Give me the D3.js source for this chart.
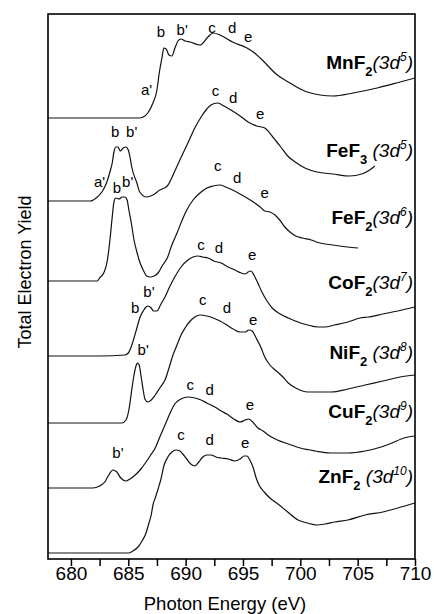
<!DOCTYPE html>
<html>
<head>
<meta charset="utf-8">
<script src="https://cdn.jsdelivr.net/npm/d3@7"></script>
<style>
  body { margin: 0; background: #fff; }
  svg { display: block; font-family: "Liberation Sans", Arial, sans-serif; }
</style>
</head>
<body>
<script>
// spectra: [photon energy (eV), total electron yield (arb. units, offset)]
var mnf2 = [[678.0,44.1],[682.5,44.1],[686.0,44.1],[686.3,44.2],[686.7,44.6],[687.15,45.6],[687.5,46.9],[687.7,48.6],[687.95,50.2],[688.1,51.1],[688.3,51.0],[688.55,50.4],[688.8,50.3],[689.07,51.1],[689.33,51.8],[689.6,52.0],[689.95,51.8],[690.4,51.7],[691.25,51.4],[691.95,52.2],[692.4,52.6],[693.0,52.4],[694.1,51.7],[695.35,51.1],[695.9,50.7],[696.5,50.1],[698.0,48.4],[699.1,47.6],[700.6,46.7],[702.85,46.3],[704.6,46.6],[706.7,47.1],[708.7,47.7],[710.0,48.1]];
var fef3 = [[678.0,35.8],[681.7,35.8],[682.3,36.2],[682.7,36.7],[683.1,37.6],[683.4,38.7],[683.6,39.6],[683.75,40.7],[683.9,41.2],[684.1,41.2],[684.3,40.8],[684.55,41.1],[684.8,41.2],[685.0,40.9],[685.15,40.2],[685.3,39.2],[685.75,37.6],[686.0,36.7],[686.6,36.2],[687.15,36.4],[687.75,36.9],[688.4,37.3],[689.1,38.9],[689.7,40.4],[690.2,41.6],[690.8,43.1],[691.35,44.2],[691.85,45.0],[692.2,45.4],[692.8,45.6],[693.35,45.3],[693.95,44.9],[694.75,44.3],[695.45,43.7],[696.2,43.3],[696.9,43.1],[697.6,42.2],[698.3,41.2],[698.9,40.3],[699.55,39.7],[700.4,39.1],[701.45,38.7],[702.85,38.5],[704.3,38.3],[705.35,38.5],[706.05,38.9],[706.5,39.3]];
var fef2 = [[678.0,27.8],[682.3,27.8],[682.5,28.1],[682.9,28.7],[683.15,29.7],[683.4,31.9],[683.6,34.2],[683.75,35.7],[683.9,36.1],[684.2,36.0],[684.45,36.2],[684.7,36.2],[684.9,35.9],[685.05,34.9],[685.25,33.7],[685.5,31.9],[685.75,30.7],[686.0,29.7],[686.3,28.9],[686.6,28.3],[686.9,28.2],[687.25,28.3],[687.6,28.6],[688.0,29.4],[688.4,30.1],[688.8,31.4],[689.25,32.6],[689.7,33.9],[690.1,34.9],[690.65,35.9],[691.25,36.6],[691.85,37.1],[692.4,37.3],[693.0,37.4],[693.5,37.2],[694.1,36.9],[694.75,36.5],[695.35,36.1],[695.9,35.7],[696.5,35.2],[696.9,34.8],[697.35,34.7],[697.8,34.4],[698.2,33.9],[698.65,33.2],[699.1,32.7],[699.6,32.3],[700.2,32.1],[700.95,31.9],[701.7,31.6],[702.85,31.4],[704.1,31.2],[705.05,31.1]];
var cof2 = [[678.0,20.3],[682.5,20.3],[684.7,20.4],[685.0,20.6],[685.25,21.2],[685.5,22.1],[685.75,23.1],[686.0,24.1],[686.3,24.8],[686.55,25.2],[686.7,25.3],[687.0,25.1],[687.2,24.8],[687.5,24.8],[687.85,25.5],[688.2,26.2],[688.6,27.2],[689.05,28.2],[689.6,29.2],[690.2,29.9],[690.65,30.2],[691.1,30.3],[691.5,30.2],[691.95,30.1],[692.45,29.8],[693.1,29.6],[693.7,29.2],[694.3,28.9],[694.85,28.6],[695.2,28.5],[695.45,28.7],[695.7,28.8],[695.95,28.4],[696.3,27.6],[696.65,26.7],[697.1,25.8],[697.55,25.1],[698.25,24.5],[698.95,24.1],[699.8,23.7],[700.65,23.4],[701.55,23.2],[702.15,23.2],[703.0,23.4],[704.15,23.7],[705.2,24.1],[705.9,24.2],[707.2,24.5],[708.5,24.8],[710.0,25.2]];
var nif2 = [[678.0,13.6],[682.5,13.6],[684.45,13.6],[684.8,13.9],[685.05,14.9],[685.3,16.9],[685.5,18.4],[685.7,19.4],[685.8,19.6],[685.95,19.4],[686.1,18.4],[686.3,16.9],[686.45,16.0],[686.7,15.7],[687.0,15.9],[687.35,16.4],[687.75,17.1],[688.2,17.9],[688.55,19.1],[688.9,20.4],[689.25,21.4],[689.6,22.4],[689.95,23.1],[690.4,23.8],[690.8,24.2],[691.25,24.4],[691.85,24.3],[692.4,24.1],[693.0,23.8],[693.6,23.4],[694.15,23.0],[694.75,22.7],[695.2,22.7],[695.5,22.9],[695.8,22.8],[696.15,22.1],[696.55,21.2],[696.9,20.2],[697.35,19.4],[697.8,18.9],[698.4,18.3],[698.95,17.6],[699.6,17.1],[700.65,16.7],[701.7,16.7],[702.7,16.7],[704.15,17.0],[705.65,17.4],[707.2,17.8],[708.7,18.2],[710.0,18.4]];
var cuf2 = [[678.0,7.1],[681.9,7.1],[682.5,7.3],[682.95,7.7],[683.3,8.4],[683.65,8.9],[684.0,8.7],[684.35,8.1],[684.8,7.8],[685.15,8.0],[685.6,8.4],[686.1,9.0],[686.55,9.7],[686.9,10.3],[687.35,11.1],[687.75,12.2],[688.2,13.4],[688.65,14.6],[689.05,15.5],[689.6,16.0],[690.2,16.2],[690.8,16.1],[691.35,15.9],[691.85,15.6],[692.55,15.2],[693.1,14.8],[693.6,14.5],[694.2,14.0],[694.75,13.7],[695.2,13.9],[695.5,14.0],[695.85,13.7],[696.3,13.1],[696.75,12.8],[697.2,12.4],[698.0,11.9],[698.95,11.5],[700.0,11.1],[701.3,10.8],[702.6,10.6],[704.15,10.6],[705.65,10.8],[707.05,11.2],[708.0,11.6],[708.8,12.0],[709.4,12.2],[710.0,12.3]];
var znf2 = [[678.0,0.6],[682.5,0.6],[685.0,0.6],[685.4,0.8],[685.85,1.2],[686.2,1.8],[686.55,2.6],[686.8,3.6],[687.0,4.4],[687.15,5.4],[687.35,6.1],[687.6,7.0],[687.85,8.0],[688.1,9.3],[688.45,10.2],[688.8,10.7],[689.15,10.9],[689.5,10.8],[689.75,10.5],[690.1,10.0],[690.45,9.5],[690.8,9.3],[691.15,9.7],[691.5,10.2],[691.85,10.4],[692.2,10.4],[692.65,10.2],[693.1,10.1],[693.7,10.0],[694.3,9.8],[694.75,10.0],[695.1,10.3],[695.35,10.3],[695.6,9.9],[695.9,9.1],[696.15,8.1],[696.4,7.4],[696.85,6.7],[697.35,6.1],[698.05,5.5],[698.9,4.7],[699.8,3.9],[700.6,3.6],[701.45,3.4],[702.15,3.5],[703.0,3.7],[704.15,3.9],[705.65,4.4],[707.2,4.7],[708.5,5.1],[710.0,5.6]];

var spectra = [mnf2, fef3, fef2, cof2, nif2, cuf2, znf2];

// compound labels
var formulas = ["MnF", "FeF", "FeF", "CoF", "NiF", "CuF", "ZnF"];
var subscripts = ["2", "3", "2", "2", "2", "2", "2"];
var dCounts = ["5", "5", "6", "7", "8", "9", "10"];
var spaced = [false, true, false, false, true, false, true];
var labelLevels = [49.0, 40.2, 33.5, 27.0, 20.0, 14.1, 7.6];

// peak letters: [energy, intensity, letter]
var peakLabels = [
  [686.6,46.4,"a'"],[687.85,52.2,"b"],[689.7,52.4,"b'"],[692.3,52.6,"c"],[694.05,52.6,"d"],[695.45,51.7,"e"],
  [683.85,42.2,"b"],[685.3,42.2,"b'"],[692.6,46.3,"c"],[694.15,45.6,"d"],[696.5,44.0,"e"],
  [682.5,37.2,"a'"],[684.0,36.6,"b"],[684.95,37.2,"b'"],[692.8,38.8,"c"],[694.5,37.6,"d"],[696.9,36.1,"e"],
  [685.6,24.6,"b"],[686.8,26.2,"b'"],[691.35,30.9,"c"],[692.9,30.6,"d"],[695.8,29.9,"e"],
  [691.5,25.4,"c"],[693.6,24.6,"d"],[695.9,23.4,"e"],[686.3,20.4,"b'"],
  [690.4,16.9,"c"],[692.1,16.4,"d"],[695.6,14.9,"e"],[684.1,10.1,"b'"],
  [689.6,11.9,"c"],[692.1,11.4,"d"],[695.2,11.1,"e"]
];

var xTicks = [680, 685, 690, 695, 700, 705, 710];
var xMinorTicks = d3.range(680, 711, 2.5);

var W = 434, H = 614;
var margin = {left: 48, right: 19, top: 14, bottom: 55};

var x = d3.scaleLinear().domain([678, 710]).range([margin.left, W - margin.right]);
var y = d3.scaleLinear().domain([0, 54.5]).range([H - margin.bottom, margin.top]);

var svg = d3.select("body").append("svg")
  .attr("width", W)
  .attr("height", H);

var line = d3.line()
  .x(function(d) { return x(d[0]); })
  .y(function(d) { return y(d[1]); })
  .curve(d3.curveMonotoneX);

svg.append("g").selectAll("path")
  .data(spectra)
  .enter()
  .append("path")
  .attr("d", line)
  .attr("fill", "none")
  .attr("stroke", "#111")
  .attr("stroke-width", 1.2);

// frame
svg.append("rect")
  .attr("x", x(678))
  .attr("y", y(54.5))
  .attr("width", x(710) - x(678))
  .attr("height", y(0) - y(54.5))
  .attr("fill", "none")
  .attr("stroke", "#000")
  .attr("stroke-width", 1.6);

// bottom axis, minor ticks every 2.5 eV
var xAxis = d3.axisBottom(x)
  .tickValues(xMinorTicks)
  .tickSize(7)
  .tickPadding(1)
  .tickFormat(function(d) { return xTicks.indexOf(d) >= 0 ? d : ""; });

var gx = svg.append("g")
  .attr("transform", "translate(0," + y(0) + ")")
  .call(xAxis);
gx.select(".domain").remove();
gx.selectAll("line").attr("stroke", "#000").attr("stroke-width", 1.5);
gx.selectAll("text")
  .attr("fill", "#000")
  .attr("font-size", 19)
  .attr("font-family", "Liberation Sans, Arial, sans-serif");

svg.append("text")
  .attr("x", 225)
  .attr("y", 610)
  .attr("text-anchor", "middle")
  .attr("font-size", 18.5)
  .text("Photon Energy (eV)");

svg.append("text")
  .attr("transform", "translate(31,272) rotate(-90)")
  .attr("text-anchor", "middle")
  .attr("font-size", 18)
  .text("Total Electron Yield");

// peak letters
svg.append("g").selectAll("text")
  .data(peakLabels)
  .enter()
  .append("text")
  .attr("x", function(d) { return x(d[0]); })
  .attr("y", function(d) { return y(d[1]); })
  .attr("text-anchor", "middle")
  .attr("font-size", 15)
  .text(function(d) { return d[2]; });

// compound labels
formulas.forEach(function(f, i) {
  var t = svg.append("text")
    .attr("x", x(710) - 2)
    .attr("y", y(labelLevels[i]))
    .attr("text-anchor", "end")
    .attr("font-size", 19);
  t.append("tspan").attr("font-weight", "bold").text(f);
  t.append("tspan").attr("font-weight", "bold").attr("font-size", 13).attr("dy", 7).text(subscripts[i]);
  t.append("tspan").attr("font-style", "italic").attr("dy", -7).text((spaced[i] ? "\u00a0" : "") + "(3d");
  t.append("tspan").attr("font-style", "italic").attr("font-size", 12).attr("dy", -8).text(dCounts[i]);
  t.append("tspan").attr("font-style", "italic").attr("dy", 8).text(")");
});
</script>
</body>
</html>
